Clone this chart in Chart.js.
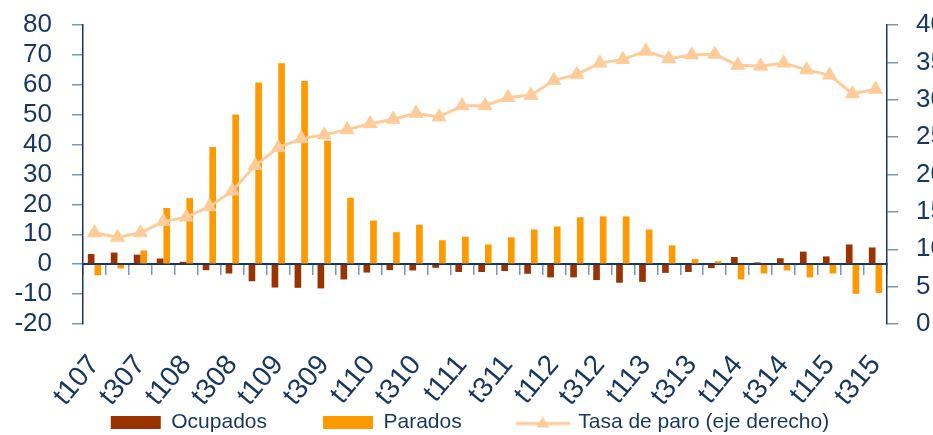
<!DOCTYPE html>
<html lang="es">
<head>
  <meta charset="UTF-8">
  <title>Ocupados, parados y tasa de paro</title>
  <script src="https://cdn.jsdelivr.net/npm/chart.js"></script>
  <style>
    html, body { margin: 0; padding: 0; overflow: hidden; background: #fff; }
    #caja { width: 945px; height: 443px; }
  </style>
</head>
<body>

  <div id="caja"><canvas id="grafico"></canvas></div>

  <script>
    // Trimestres (t107 = primer trimestre de 2007)
    const trimestres = [
      't107', 't207', 't307', 't407', 't108', 't208', 't308', 't408',
      't109', 't209', 't309', 't409', 't110', 't210', 't310', 't410',
      't111', 't211', 't311', 't411', 't112', 't212', 't312', 't412',
      't113', 't213', 't313', 't413', 't114', 't214', 't314', 't414',
      't115', 't215', 't315'
    ];

    // Variación interanual (%)
    const ocupados = [
      3.4, 3.9, 3.2, 1.9, 0.8, -2.0, -3.1, -5.7,
      -7.8, -7.9, -8.1, -5.1, -2.8, -2.0, -2.1, -1.2,
      -2.6, -2.6, -2.3, -3.2, -4.4, -4.4, -5.3, -6.2,
      -5.9, -2.9, -2.6, -1.3, 2.4, 0.6, 2.0, 4.2,
      2.6, 6.6, 5.6
    ];
    const parados = [
      -3.7, -1.4, 4.6, 18.8, 22.1, 39.2, 50.1, 60.8,
      67.2, 61.3, 41.3, 22.2, 14.6, 10.7, 13.2, 8.0,
      9.2, 6.6, 9.0, 11.6, 12.6, 15.7, 16.0, 16.0,
      11.6, 6.3, 1.7, 1.0, -5.1, -3.1, -2.1, -4.4,
      -3.1, -9.9, -9.6
    ];

    // Tasa de paro (%), eje derecho
    const tasaParo = [
      12.2, 11.6, 12.2, 13.7, 14.3, 15.7, 17.8, 21.2,
      23.6, 24.8, 25.3, 26.0, 26.8, 27.4, 28.2, 27.7,
      29.2, 29.2, 30.3, 30.6, 32.6, 33.4, 34.9, 35.4,
      36.5, 35.5, 36.0, 36.1, 34.6, 34.5, 34.9, 34.0,
      33.3, 30.8, 31.4
    ];

    const azul = '#17375e';
    const gris = '#7d95b7';
    const colorTasa = '#ffcc99';

    Chart.defaults.font.family = "'Liberation Sans', Arial, sans-serif";

    // Icono de la leyenda para la linea: trazo con triangulo
    const iconoLinea = document.createElement('canvas');
    iconoLinea.width = 54;
    iconoLinea.height = 16;
    const ic = iconoLinea.getContext('2d');
    ic.strokeStyle = colorTasa;
    ic.fillStyle = colorTasa;
    ic.lineWidth = 3;
    ic.beginPath(); ic.moveTo(0, 9); ic.lineTo(54, 9); ic.stroke();
    ic.beginPath(); ic.moveTo(27, 2); ic.lineTo(33.5, 13); ic.lineTo(20.5, 13); ic.closePath(); ic.fill();

    const ejeY = (min, max, paso, posicion, relleno, ancho) => ({
      position: posicion,
      min: min,
      max: max,
      ticks: { stepSize: paso, autoSkip: false, color: azul, font: { size: 26 }, padding: relleno },
      grid: { drawOnChartArea: false, tickLength: 11, color: gris, lineWidth: 1.5 },
      border: { color: azul, width: 1.5 },
      afterFit: s => { s.width = ancho; s.paddingTop = 0; s.paddingBottom = 0; }
    });

    const ctx = document.getElementById('grafico').getContext('2d');
    const grafico = new Chart(ctx, {
      type: 'bar',
      data: {
        labels: trimestres,
        datasets: [
          { label: 'Ocupados', data: ocupados, backgroundColor: '#993300', yAxisID: 'y', order: 1 },
          { label: 'Parados', data: parados, backgroundColor: '#ff9900', yAxisID: 'y', order: 1 },
          {
            type: 'line', label: 'Tasa de paro (eje derecho)', data: tasaParo, yAxisID: 'y1', order: 0,
            borderColor: colorTasa, backgroundColor: colorTasa, borderWidth: 3,
            pointStyle: 'triangle', pointRadius: 8, pointBackgroundColor: colorTasa,
            pointBorderColor: colorTasa, pointBorderWidth: 1
          }
        ]
      },
      options: {
        responsive: true,
        maintainAspectRatio: false,
        animation: false,
        layout: { padding: { top: 25, left: 0, right: 5, bottom: 0 } },
        datasets: { bar: { categoryPercentage: 0.58, barPercentage: 1 } },
        plugins: {
          tooltip: { enabled: false },
          legend: {
            position: 'bottom',
            // titulo vacio: solo deja el hueco que ocupan las etiquetas del eje x
            title: { display: true, text: '', font: { size: 10 }, padding: { top: 10, bottom: 10 } },
            labels: {
              color: azul,
              font: { size: 21 },
              padding: 56,
              usePointStyle: true,
              pointStyleWidth: 50,
              boxHeight: 13,
              sort: (a, b) => a.datasetIndex - b.datasetIndex,
              generateLabels: chart => Chart.defaults.plugins.legend.labels.generateLabels(chart).map(item => {
                item.pointStyle = item.datasetIndex === 2 ? iconoLinea : 'rect';
                return item;
              })
            }
          }
        },
        scales: {
          x: {
            axis: 'x',
            position: { y: -20 },
            grid: { display: false, drawTicks: false },
            border: { display: false },
            ticks: {
              autoSkip: false, minRotation: 50, maxRotation: 50, padding: 25, labelOffset: 0,
              color: azul, font: { size: 28 },
              callback: (v, i) => i % 2 === 0 ? trimestres[i] : ''
            },
            afterFit: s => { s.paddingLeft = 0; s.paddingRight = 0; }
          },
          // linea del cero con marcas entre trimestres
          x2: {
            axis: 'x',
            type: 'category',
            position: { y: 0 },
            offset: true,
            z: 1,
            grid: { offset: true, drawOnChartArea: false, tickLength: 10, color: gris, lineWidth: 1.5 },
            border: { color: azul, width: 2 },
            ticks: { display: false }
          },
          y: ejeY(-20, 80, 10, 'left', 20, 83),
          y1: ejeY(0, 40, 5, 'right', 18, 53)
        }
      }
    });
  </script>

</body>
</html>
